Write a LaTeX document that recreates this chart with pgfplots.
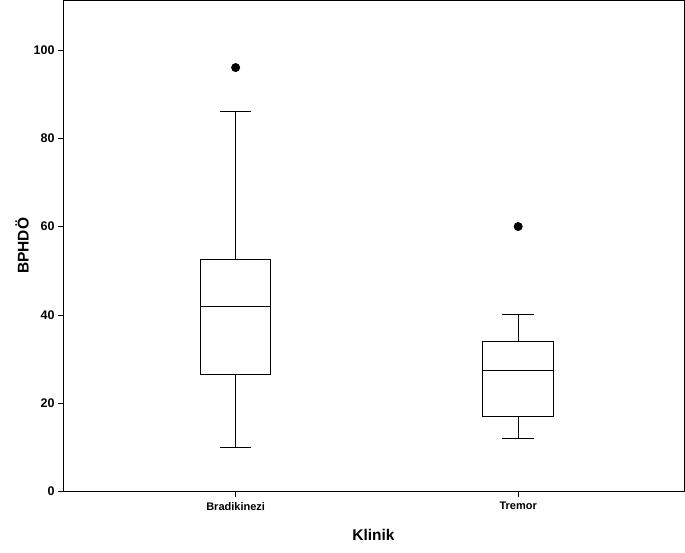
\documentclass[border=0pt]{standalone}
\usepackage{pgfplots}
\pgfplotsset{compat=1.18}
\usepgfplotslibrary{statistics}
\usepackage{fontspec}
\setmainfont{Liberation Sans}

\begin{document}
\begin{tikzpicture}
\useasboundingbox (-63pt,-60.5pt) rectangle (622pt,491.5pt);
\begin{axis}[
  at={(0,0)}, anchor=south west,
  scale only axis, width=621pt, height=491.5pt,
  xmin=0.389, xmax=2.587, ymin=0, ymax=111.3,
  xtick={1,2}, xticklabels={Bradikinezi,Tremor},
  ytick={0,20,...,100},
  tick pos=left, tick align=outside, major tick length=5pt,
  axis line style={line width=0.9pt},
  every tick/.style={black, line width=0.6pt},
  /pgf/number format/assume math mode=true,
  xticklabel style={yshift=-2pt, font=\fontsize{11}{13}\selectfont\bfseries},
  yticklabel style={font=\fontsize{12.5}{14}\selectfont\bfseries},
  xlabel={Klinik}, ylabel={BPHDÖ},
  every axis x label/.style={at={(axis description cs:0.5,-0.0885)}, anchor=center,
    font=\fontsize{15.5}{18}\selectfont\bfseries},
  every axis y label/.style={at={(axis description cs:-0.066,0.5)}, rotate=90, anchor=center,
    font=\fontsize{15.5}{18}\selectfont\bfseries},
  boxplot/draw direction=y,
  boxplot/box extend=0.25,
  boxplot/whisker extend=0.112,
]
% Bradikinezi
\addplot[black, line width=0.9pt, mark=*, mark size=4pt, mark options={fill=black},
  boxplot prepared={draw position=1, lower whisker=10, lower quartile=26.5,
    median=42, upper quartile=52.5, upper whisker=86}]
  coordinates {(0,96)};
% Tremor
\addplot[black, line width=0.9pt, mark=*, mark size=4pt, mark options={fill=black},
  boxplot prepared={draw position=2, lower whisker=12, lower quartile=17,
    median=27.5, upper quartile=34, upper whisker=40}]
  coordinates {(0,60)};
\end{axis}
\end{tikzpicture}
\end{document}
